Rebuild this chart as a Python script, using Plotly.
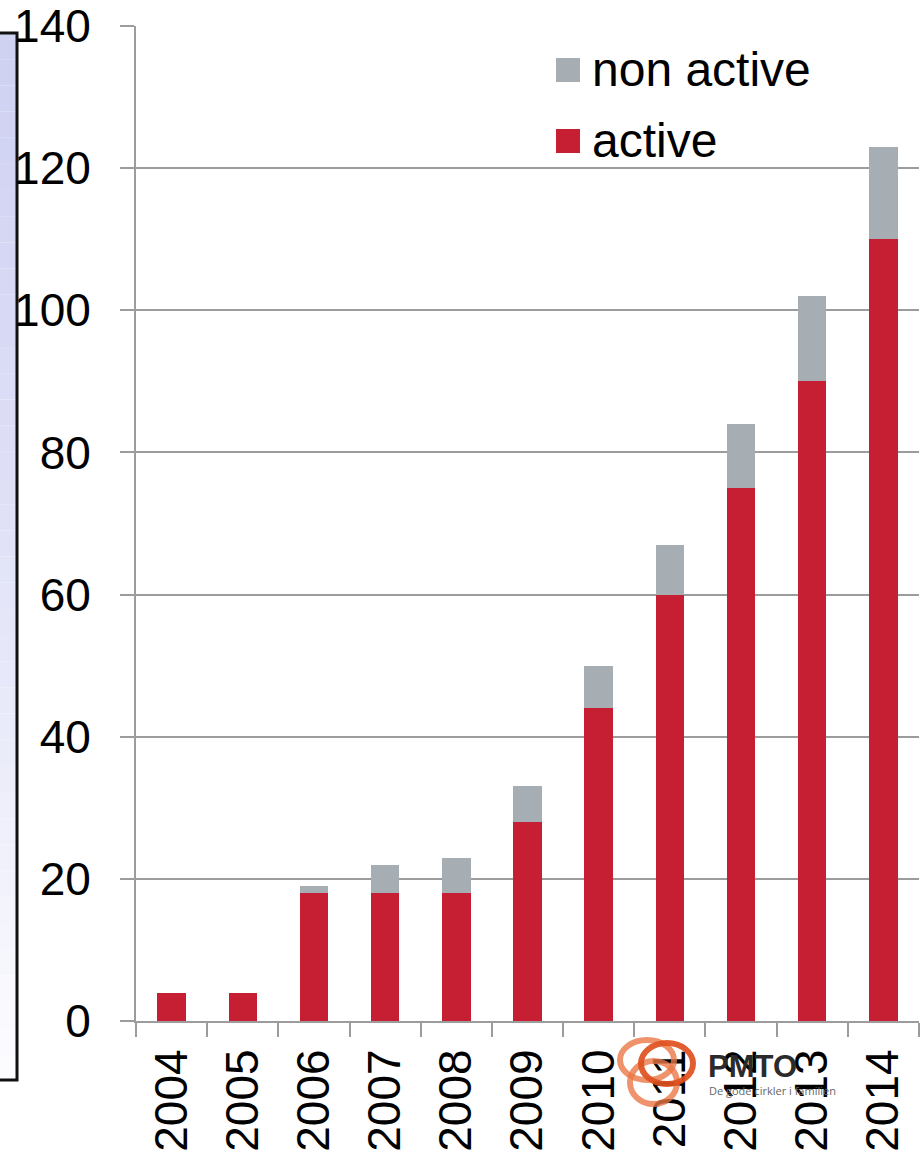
import plotly.graph_objects as go

years = ["2004", "2005", "2006", "2007", "2008", "2009", "2010", "2011", "2012", "2013", "2014"]
active = [4, 4, 18, 18, 18, 28, 44, 60, 75, 90, 110]
total = [4, 4, 19, 22, 23, 33, 50, 67, 84, 102, 123]
non_active = [t - a for t, a in zip(total, active)]

RED = "#c61f33"
GRAY = "#a6adb3"
AXC = "#9c9c9c"
FONT = "Arial, Liberation Sans, sans-serif"

W, H = 922, 1153
L, R, T, B = 136, 3, 26, 132
PW, PH = W - L - R, H - T - B


def px(x):
    return (x - L) / PW


def py(y):
    return (H - B - y) / PH


fig = go.Figure()
fig.add_bar(x=years, y=active, name="active", marker_color=RED, marker_line_width=0)
fig.add_bar(x=years, y=non_active, name="non active", marker_color=GRAY, marker_line_width=0)

shapes = []
# left slide fragment with gradient
n = 40
top, bot = 33, 1080
c0 = (208, 210, 242)
c1 = (252, 252, 255)
for i in range(n):
    f = (i / (n - 1)) ** 1.3
    col = tuple(round(c0[k] + (c1[k] - c0[k]) * f) for k in range(3))
    y0 = top + (bot - top) * i / n
    y1 = top + (bot - top) * (i + 1) / n
    shapes.append(dict(type="rect", xref="paper", yref="paper", x0=px(-5), x1=px(16),
                       y0=py(y1), y1=py(y0), fillcolor="rgb(%d,%d,%d)" % col,
                       line_width=0, layer="below"))
shapes.append(dict(type="rect", xref="paper", yref="paper", x0=px(-10), x1=px(17),
                   y0=py(bot), y1=py(top), line=dict(color="#111", width=3),
                   fillcolor="rgba(0,0,0,0)", layer="below"))

# legend squares
for yc, col in [(70, GRAY), (141, RED)]:
    shapes.append(dict(type="rect", xref="paper", yref="paper", x0=px(556), x1=px(580),
                       y0=py(yc + 12), y1=py(yc - 12), fillcolor=col, line_width=0))

# PMTO logo rings
for (x0, x1, y0, y1, col) in [(617, 677, 1037, 1083, "rgba(234,120,70,0.8)"),
                              (627, 680, 1058, 1107, "rgba(234,120,70,0.8)"),
                              (638, 696, 1040, 1087, "rgba(224,80,32,0.92)")]:
    shapes.append(dict(type="circle", xref="paper", yref="paper", x0=px(x0 + 3), x1=px(x1 - 3),
                       y0=py(y1 - 3), y1=py(y0 + 3), line=dict(color=col, width=6),
                       fillcolor="rgba(0,0,0,0)"))

annotations = [
    dict(text="non active", x=px(590), y=py(70), xref="paper", yref="paper", xanchor="left",
         yanchor="middle", showarrow=False, font=dict(size=48, color="black", family=FONT)),
    dict(text="active", x=px(590), y=py(141), xref="paper", yref="paper", xanchor="left",
         yanchor="middle", showarrow=False, font=dict(size=48, color="black", family=FONT)),
    dict(text="<b>PMTO</b>", x=px(706), y=py(1066), xref="paper", yref="paper", xanchor="left",
         yanchor="middle", showarrow=False, font=dict(size=31, color="#2b2b2b", family=FONT)),
    dict(text="De gode cirkler i familien", x=px(707), y=py(1090), xref="paper", yref="paper",
         xanchor="left", yanchor="middle", showarrow=False,
         font=dict(size=11, color="#666", family="Open Sans, sans-serif")),
]

fig.update_layout(
    template="none",
    width=W, height=H,
    margin=dict(l=L, r=R, t=T, b=B, pad=0),
    barmode="stack",
    bargap=0.6,
    showlegend=False,
    paper_bgcolor="white",
    plot_bgcolor="white",
    font=dict(family=FONT, size=46, color="black"),
    shapes=shapes,
    annotations=annotations,
)
fig.update_xaxes(
    type="category", tickangle=-90, tickson="boundaries", ticks="outside", ticklen=14,
    tickwidth=2, tickcolor=AXC, showline=True, linecolor=AXC, linewidth=2, showgrid=False,
    tickfont=dict(size=46, family=FONT, color="black"), automargin=False,
    ticklabelstandoff=8,
)
fig.update_yaxes(
    range=[0, 140], dtick=20, ticks="outside", ticklen=14, tickwidth=2, tickcolor=AXC,
    showline=True, linecolor=AXC, linewidth=2, showgrid=True, gridcolor=AXC, gridwidth=1.5,
    zeroline=False, tickfont=dict(size=46, family=FONT, color="black"), automargin=False,
    ticklabelstandoff=20,
)

fig.write_html("out.html")
